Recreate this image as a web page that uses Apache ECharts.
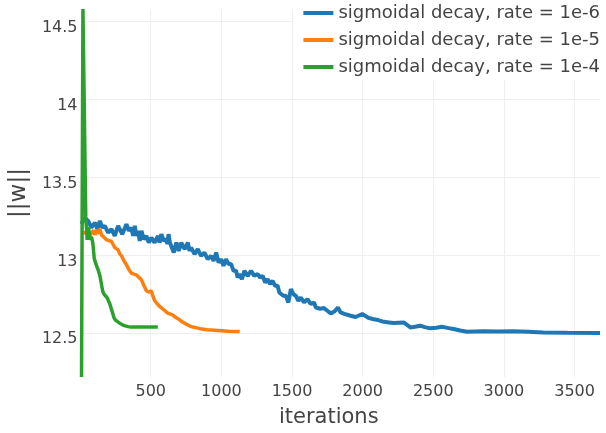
<!DOCTYPE html>
<html>
<head>
<meta charset="utf-8">
<script src="https://cdn.jsdelivr.net/npm/echarts@6/dist/echarts.min.js"></script>
<style>html,body{margin:0;padding:0;background:#fff}#c{width:606px;height:433px}</style>
</head>
<body>
<div id="c"></div>
<script>
var seriesNames = ['sigmoidal decay, rate = 1e-6', 'sigmoidal decay, rate = 1e-5', 'sigmoidal decay, rate = 1e-4'];
var xTicks = [500, 1000, 1500, 2000, 2500, 3000, 3500];
var yTicks = [12.5, 13, 13.5, 14, 14.5];

var bluePoints = [
  [10,13.2],[30,13.24],
  [57,13.221],[80,13.178],[105,13.210],[122,13.168],[140,13.221],[157,13.178],[175,13.189],[198,13.146],
  [222,13.168],[245,13.125],[269,13.189],[298,13.136],[328,13.200],[345,13.157],[363,13.178],[375,13.125],
  [387,13.189],[398,13.125],[410,13.157],[422,13.093],[434,13.157],[451,13.104],[469,13.125],[486,13.082],
  [504,13.114],[527,13.082],[551,13.125],[563,13.082],[575,13.136],[592,13.093],[610,13.104],[618,13.072],
  [626,13.136],[635,13.082],[645,13.072],[663,13.018],[681,13.082],[698,13.029],[716,13.082],[740,13.040],
  [763,13.082],[774,13.029],[786,13.050],[810,13.008],[833,13.040],[856,12.997],[880,13.018],[903,12.976],
  [927,12.997],[945,12.965],[963,13.018],[980,12.954],[998,12.976],[1015,12.933],[1033,12.976],[1051,12.944],
  [1069,12.944],[1086,12.901],[1104,12.901],[1115,12.858],[1127,12.880],[1145,12.848],[1163,12.901],[1186,12.869],
  [1210,12.901],[1233,12.869],[1257,12.880],[1274,12.858],[1292,12.869],[1310,12.826],[1327,12.848],[1345,12.816],
  [1362,12.837],[1380,12.805],[1398,12.805],[1410,12.762],[1421,12.773],[1438,12.741],[1456,12.741],[1474,12.698],
  [1492,12.784],[1510,12.752],[1527,12.741],[1545,12.709],[1562,12.730],[1585,12.698],[1609,12.720],[1632,12.688],
  [1656,12.698],[1668,12.666],
  [1680,12.672],[1700,12.658],[1726,12.662],[1750,12.645],[1774,12.628],[1800,12.64],[1825,12.666],[1844,12.634],
  [1870,12.625],[1915,12.613],[1950,12.605],[1997,12.624],[2040,12.60],[2079,12.59],[2110,12.585],[2150,12.574],
  [2185,12.57],[2220,12.566],[2290,12.57],[2338,12.538],[2370,12.542],[2408,12.549],[2440,12.54],[2479,12.532],
  [2520,12.536],[2561,12.542],[2600,12.535],[2643,12.528],[2690,12.518],[2738,12.51],[2855,12.513],[2950,12.512],
  [3066,12.513],[3170,12.51],[3278,12.506],[3450,12.504],[3680,12.502]
];

var orangePoints = [
  [10,13.15],[50,13.14],[70,13.13],[81,13.142],[95,13.16],[105,13.13],[116,13.165],[128,13.14],[140,13.17],
  [152,13.13],[165,13.12],[187,13.10],[205,13.095],[222,13.089],[235,13.08],[246,13.05],[258,13.045],[269,13.035],
  [280,13.01],[293,12.997],[310,12.965],[328,12.94],[345,12.91],[363,12.886],[380,12.88],[398,12.875],[415,12.86],
  [434,12.843],[450,12.81],[469,12.773],[485,12.765],[504,12.772],[515,12.74],[528,12.709],[545,12.69],[563,12.673],
  [580,12.66],[600,12.645],[620,12.63],[650,12.62],[680,12.6],[700,12.59],[720,12.575],[750,12.56],[780,12.545],
  [800,12.54],[850,12.53],[900,12.523],[950,12.52],[1000,12.517],[1050,12.514],[1100,12.512],[1130,12.511]
];

var greenPoints = [
  [10,12.22],[20,14.58],[40,13.25],[50,13.1],[60,13.18],[70,13.1],[80,13.12],[90,13.08],[100,12.98],[110,12.95],
  [120,12.94],[130,12.9],[140,12.87],[150,12.82],[160,12.77],[170,12.75],[180,12.74],[190,12.73],[200,12.72],
  [210,12.69],[220,12.66],[230,12.63],[240,12.6],[250,12.585],[260,12.575],[280,12.565],[300,12.555],[320,12.548],
  [340,12.543],[360,12.54],[400,12.54],[450,12.54],[500,12.54],[550,12.54]
];

var colors = ['#1f77b4', '#ff7f0e', '#2ca02c'];
var lineWidths = [4, 3.5, 3.5];
var allPoints = [bluePoints, orangePoints, greenPoints];

var font = 'DejaVu Sans';
var chart = echarts.init(document.getElementById('c'), null, {renderer: 'canvas'});
chart.setOption({
  animation: false,
  backgroundColor: '#fff',
  color: colors,
  grid: {left: 80, right: 6, top: 9, bottom: 55, containLabel: false},
  legend: {
    orient: 'vertical', right: 2, top: 0, padding: [3, 4, 3, 10],
    backgroundColor: '#fff', icon: 'rect', itemWidth: 30, itemHeight: 4, itemGap: 7,
    textStyle: {fontFamily: font, fontSize: 18, color: '#444', lineHeight: 20},
    data: seriesNames
  },
  xAxis: {
    type: 'value', min: 10, max: 3680,
    name: 'iterations', nameLocation: 'middle', nameGap: 30,
    nameTextStyle: {fontFamily: font, fontSize: 21, color: '#444', padding: [0, 24, 0, 0]},
    axisLine: {show: false}, axisTick: {show: false, customValues: xTicks},
    axisLabel: {customValues: xTicks, fontFamily: font, fontSize: 16, color: '#444', margin: 7,
      formatter: function (v) { return String(v); }},
    splitLine: {show: true, lineStyle: {color: '#eeeeee', width: 1}}
  },
  yAxis: {
    type: 'value', min: 12.22, max: 14.58,
    name: '||w||', nameLocation: 'middle', nameGap: 48,
    nameTextStyle: {fontFamily: font, fontSize: 23, color: '#444'},
    axisLine: {show: false}, axisTick: {show: false, customValues: yTicks},
    axisLabel: {customValues: yTicks, fontFamily: font, fontSize: 16, color: '#444', margin: 4,
      verticalAlign: 'top', lineHeight: 12,
      formatter: function (v) { return String(v); }},
    splitLine: {show: true, lineStyle: {color: '#eeeeee', width: 1}}
  },
  series: seriesNames.map(function (n, i) {
    return {
      name: n, type: 'line', showSymbol: false, symbol: 'none',
      data: allPoints[i],
      lineStyle: {width: lineWidths[i], color: colors[i]}, itemStyle: {color: colors[i]},
      clip: true
    };
  })
});
</script>
</body>
</html>
